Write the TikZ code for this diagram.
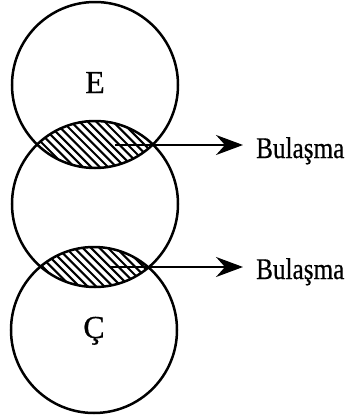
\documentclass[tikz,border=0pt]{standalone}
\usepackage{fontspec}
\setmainfont{Liberation Serif}[FakeBold=0.6]
\usetikzlibrary{arrows.meta}
\begin{document}
\begin{tikzpicture}[x=1pt,y=-1pt,
  ring/.style={draw=black,line width=2.5pt},
  hatchline/.style={draw=black,line width=2.1pt},
  pointer/.style={draw=black,line width=2pt,-{Stealth[length=27pt,width=20pt,inset=9pt]}},
  letter/.style={font=\fontsize{32}{34}\selectfont,inner sep=0pt,anchor=base},
  tag/.style={font=\fontsize{30}{32}\selectfont,inner sep=0pt,anchor=base west,xscale=0.84}]
\useasboundingbox (0,0) rectangle (348,418);
% hatching in lenses
\begin{scope}
  \clip (95,85) circle (83);
  \clip (95,203) circle (83);
  \foreach \i in {-136,-127.6,...,136}
    \draw[hatchline] (95+\i-70,74) -- (95+\i+70,214);
\end{scope}
\begin{scope}
  \clip (95,204) circle (83);
  \clip (94,330) circle (83);
  \foreach \i in {-136,-127.6,...,136}
    \draw[hatchline] (95+\i-70,197) -- (95+\i+70,337);
\end{scope}
% circles
\node[ring,circle,minimum size=166pt,inner sep=0pt] (top) at (95,85) {};
\node[ring,circle,minimum size=166pt,inner sep=0pt] (mid) at (95,204) {};
\node[ring,circle,minimum size=166pt,inner sep=0pt] (bot) at (94,330) {};
% letters
\node[letter] (e) at (95,93) {E};
\node[letter] (c) at (94,338) {Ç};
% labels
\node[tag] (l1) at (256,158) {Bulaşma};
\node[tag] (l2) at (256,279) {Bulaşma};
\coordinate (s1) at (115,145);
\coordinate (s2) at (110,267);
\draw[pointer] (s1) -- ([xshift=-13pt]s1 -| l1.west);
\draw[pointer] (s2) -- ([xshift=-13pt]s2 -| l2.west);
\end{tikzpicture}
\end{document}
